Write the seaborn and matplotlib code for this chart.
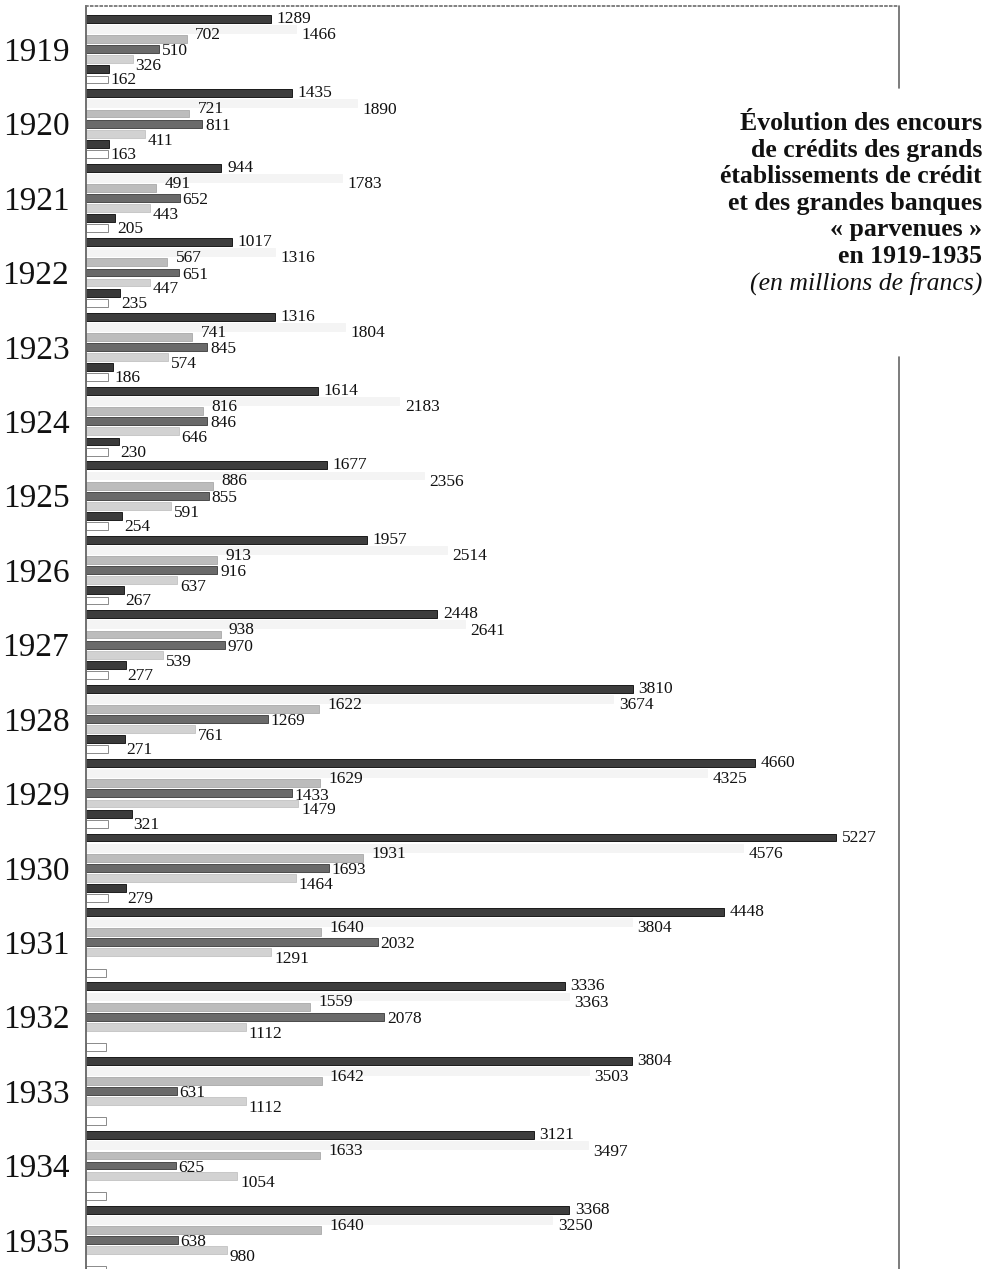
import matplotlib
matplotlib.use("Agg")  # headless
import matplotlib.pyplot as plt
import seaborn as sns
import pandas as pd
import numpy as np

nan = np.nan
years = [str(y) for y in range(1919, 1936)]

# encours par série (millions de francs)
serie_a = [1289, 1435, 944, 1017, 1316, 1614, 1677, 1957, 2448, 3810, 4660, 5227, 4448, 3336, 3804, 3121, 3368]
serie_b = [1466, 1890, 1783, 1316, 1804, 2183, 2356, 2514, 2641, 3674, 4325, 4576, 3804, 3363, 3503, 3497, 3250]
serie_c = [702, 721, 491, 567, 741, 816, 886, 913, 938, 1622, 1629, 1931, 1640, 1559, 1642, 1633, 1640]
serie_d = [510, 811, 652, 651, 845, 846, 855, 916, 970, 1269, 1433, 1693, 2032, 2078, 631, 625, 638]
serie_e = [326, 411, 443, 447, 574, 646, 591, 637, 539, 761, 1479, 1464, 1291, 1112, 1112, 1054, 980]
serie_f = [162, 163, 205, 235, 186, 230, 254, 267, 277, 271, 321, 279, nan, nan, nan, nan, nan]
serie_g = [150, 150, 150, 150, 150, 150, 150, 150, 150, 150, 150, 150, 140, 140, 140, 140, 140]

names = ["a", "b", "c", "d", "e", "f", "g"]
all_series = [serie_a, serie_b, serie_c, serie_d, serie_e, serie_f, serie_g]

rows = []
for name, vals in zip(names, all_series):
    for yr, v in zip(years, vals):
        rows.append({"annee": yr, "serie": name, "valeur": v})
df = pd.DataFrame(rows)

colors = ["#3d3d3d", "#f4f4f4", "#bcbcbc", "#6a6a6a", "#d2d2d2", "#3a3a3a", "#ffffff"]
edges = ["#1a1a1a", "#f4f4f4", "#b0b0b0", "#4a4a4a", "#c8c8c8", "#1e1e1e", "#8a8a8a"]

sns.set_style("white")
plt.rcParams["font.family"] = ["Liberation Serif", "DejaVu Serif"]

fig = plt.figure(figsize=(9.9, 12.69), dpi=100)
ax = fig.add_axes([86 / 990, 0, (899 - 86) / 990, 1263 / 1269])

sns.barplot(data=df, x="valeur", y="annee", hue="serie", order=years, hue_order=names,
            palette=colors, orient="h", width=0.95, gap=0.22, errorbar=None,
            saturation=1, legend=False, ax=ax)

for cont, ec in zip(ax.containers, edges):
    for bar in cont:
        bar.set_edgecolor(ec)
        bar.set_linewidth(0.7)

# étiquettes de valeurs (décalages verticaux comme sur l'original)
pads = [4, 4, 6, 2, 2, 1]
dys = [0, -4.5, 3, -1.5, -5, -8]
for k, cont in enumerate(ax.containers[:6]):
    labels = [f"{v:.0f}" for v in cont.datavalues]
    anns = ax.bar_label(cont, labels=labels, padding=3, fontsize=12.5, color="#111111")
    for a in anns:
        a.xyann = (pads[k], dys[k])

ax.set_xlim(0, 5666)
ax.set_ylim(16.39, -0.58)
ax.set_xticks([])
ax.set_xlabel("")
ax.set_ylabel("")
ax.tick_params(axis="y", length=0, pad=12, labelsize=24, labelcolor="#111111")

for s in ["bottom", "right"]:
    ax.spines[s].set_visible(False)
ax.spines["left"].set_color("#666666")
ax.spines["left"].set_linewidth(1.3)
ax.spines["top"].set_color("#777777")
ax.spines["top"].set_linestyle(":")
ax.spines["top"].set_linewidth(1.3)
# bord droit interrompu par le titre
ax.axvline(5666, ymin=1 - 82 / 1263, ymax=1, color="#666666", lw=1.2, clip_on=False)
ax.axvline(5666, ymin=0, ymax=1 - 351 / 1263, color="#666666", lw=1.2, clip_on=False)

title_lines = ["Évolution des encours", "de crédits des grands", "établissements de crédit",
               "et des grandes banques", "« parvenues »", "en 1919-1935"]
for i, line in enumerate(title_lines):
    fig.text(982 / 990, 1 - (130 + i * 26.6) / 1269, line, ha="right", va="baseline",
             fontsize=18.5, fontweight="bold", color="#111111")
fig.text(982 / 990, 1 - 290 / 1269, "(en millions de francs)", ha="right", va="baseline",
         fontsize=18.5, fontstyle="italic", color="#111111")

fig.savefig("out.png", dpi=100)
plt.close(fig)
